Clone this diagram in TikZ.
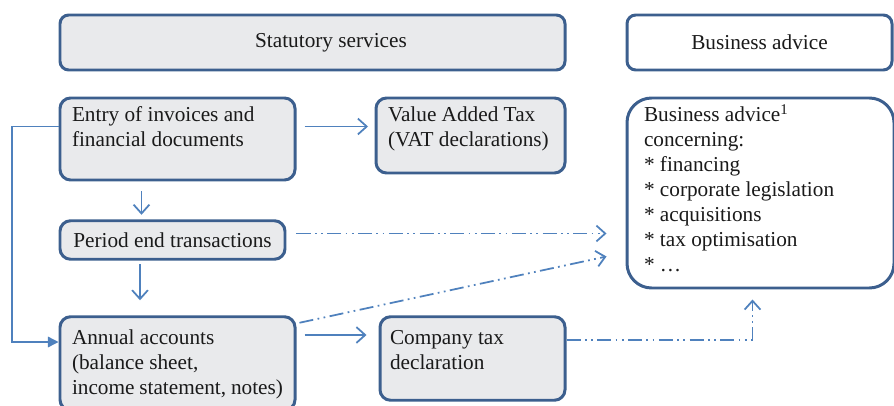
\documentclass[tikz,border=0pt]{standalone}
\usepackage{fontspec}
\setmainfont{Liberation Serif}
\usetikzlibrary{
  arrows.meta,
  positioning,
  calc
}
\definecolor{boxBorder}{HTML}{3C5F8E}
\definecolor{boxFill}{HTML}{E9EAEC}
\definecolor{flowBlue}{HTML}{4F81BD}
\definecolor{textdark}{HTML}{1A1A1A}
% text block pinned to the top of a box
\newcommand{\celltext}[3]{\parbox[c][#2][t]{#1}{\raggedright\strut #3}}
\tikzset{
  basefont/.style={
    font=\fontsize{12.1}{14.2}\selectfont, text=textdark,
  },
  headbox/.style 2 args={
    basefont, rounded corners=5pt,
    draw=boxBorder, fill=#1, line width=1.7pt,
    minimum height=1.1cm, minimum width=#2,
  },
  stepbox/.style={
    basefont, rounded corners=6pt,
    draw=boxBorder, fill=boxFill, line width=1.7pt,
    inner xsep=0.24cm, inner ysep=0.13cm,
  },
  flowarrow/.style={
    draw=flowBlue, line width=1pt,
    -{Straight Barb[length=5pt,width=9pt,line width=1pt]},
  },
  linkarrow/.style={
    flowarrow,
    dash pattern=on 8pt off 2.5pt on 1pt off 2.5pt on 1pt off 2.5pt,
  },
  railarrow/.style={
    draw=flowBlue, line width=0.8pt,
    -{Triangle[length=6pt,width=6pt]},
  },
}

\begin{document}
\begin{tikzpicture}

  \useasboundingbox (0,0) rectangle (17.88,-8.12);

  % ─── Headers ────────────────────────────────────────────────────────
  \node[headbox={boxFill}{10.1cm}] (stat) at (6.25,-0.85)
    {\hspace*{0.74cm}Statutory services};
  \node[headbox={white}{5.3cm}] (headadv) at (15.19,-0.85)
    {Business advice};

  % ─── Statutory steps ────────────────────────────────────────────────
  \node[stepbox] (entry) at (3.55,-2.78)
    {\celltext{4.22cm}{1.38cm}{Entry of invoices and\\financial documents}};

  \node[stepbox] (vat) at (9.41,-2.71)
    {\celltext{3.30cm}{1.24cm}{Value Added Tax\\(VAT declarations)}};

  \node[stepbox, minimum width=4.5cm, minimum height=0.77cm,
        inner ysep=0pt]
    (period) at (3.45,-4.8) {Period end transactions};

  \node[stepbox, inner ysep=0.21cm] (annual) at (3.55,-7.27)
    {\celltext{4.22cm}{1.45cm}{Annual accounts\\(balance sheet,\\income statement, notes)}};

  \node[stepbox, inner xsep=0.2cm, inner ysep=0.21cm] (ctax) at (9.45,-7.17)
    {\celltext{3.30cm}{1.25cm}{Company tax\\declaration}};

  % ─── Advice box ─────────────────────────────────────────────────────
  \node[stepbox, fill=white, rounded corners=14pt,
        inner xsep=0.34cm] (advice) at (15.21,-3.86)
    {\celltext{4.66cm}{3.54cm}{Business advice\textsuperscript{1}\\concerning:\\{*} financing\\{*} corporate legislation\\{*} acquisitions\\{*} tax optimisation\\{*} \dots}};

  % ─── Solid flow ─────────────────────────────────────────────────────
  \draw[flowarrow, shorten <=0.16cm, shorten >=0.13cm]
    ([yshift=0.25cm]entry.east) -- ([yshift=0.25cm]entry.east -| vat.west);
  \draw[flowarrow, shorten <=0.2cm, shorten >=0.09cm]
    ([xshift=-0.72cm]entry.south) -- ([xshift=-0.72cm]entry.south |- period.north);
  \draw[flowarrow, shorten <=0.07cm, shorten >=0.3cm]
    ([xshift=-0.65cm]period.south) -- ([xshift=-0.65cm]period.south |- annual.north);
  \draw[flowarrow, shorten <=0.16cm, shorten >=0.24cm]
    ([yshift=0.57cm]annual.east) -- ([yshift=0.57cm]annual.east -| ctax.west);

  % rail on the left: entry straight to annual accounts
  \coordinate (rail) at (0.24,-4.8);
  \draw[railarrow]
    ([yshift=0.25cm]entry.west) -- ([yshift=0.25cm]entry.west -| rail)
    |- ([yshift=0.43cm]annual.west);

  % ─── Links to business advice ───────────────────────────────────────
  \draw[linkarrow, shorten <=0.2cm, shorten >=0.38cm]
    ([yshift=0.13cm]period.east) -- ([yshift=0.13cm]period.east -| advice.west);
  \draw[linkarrow]
    ([shift={(0.06cm,-0.15cm)}]annual.north east)
    -- ([shift={(-0.38cm,-1.27cm)}]advice.west);
  \draw[linkarrow, shorten >=0.2cm]
    ([yshift=0.37cm]ctax.east) -| ([xshift=-0.16cm]advice.south);

\end{tikzpicture}
\end{document}
